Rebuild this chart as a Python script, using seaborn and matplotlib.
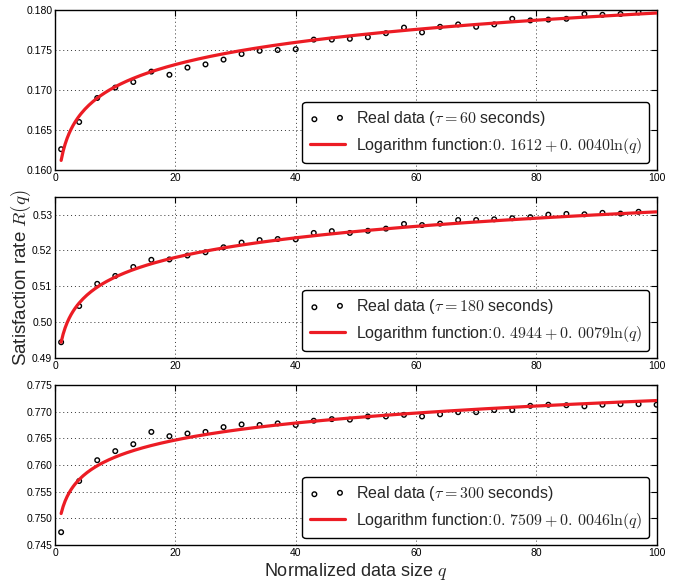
import numpy as np
import pandas as pd
import matplotlib
matplotlib.use("Agg")
import matplotlib.pyplot as plt
import seaborn as sns

# Normalized data size q (sampled every 3)
q_top = [1, 4, 7, 10, 13, 16, 19, 22, 25, 28, 31, 34, 37, 40, 43, 46, 49,
         52, 55, 58, 61, 64, 67, 70, 73, 76, 79, 82, 85, 88, 91, 94, 97]
q_bottom = q_top + [100]

# Real data, tau = 60 / 180 / 300 seconds
r_60 = [0.1626, 0.1660, 0.1690, 0.1703, 0.1710, 0.1723, 0.1719, 0.1728,
        0.1732, 0.1738, 0.1745, 0.1749, 0.1750, 0.1751, 0.1763, 0.1763,
        0.1764, 0.1766, 0.1771, 0.1778, 0.1772, 0.1779, 0.1782, 0.1779,
        0.1782, 0.1789, 0.1787, 0.1788, 0.1789, 0.1795, 0.1794, 0.1795,
        0.1797]
r_180 = [0.4944, 0.5045, 0.5107, 0.5129, 0.5154, 0.5174, 0.5175, 0.5186,
         0.5195, 0.5209, 0.5222, 0.5229, 0.5232, 0.5231, 0.5249, 0.5254,
         0.5249, 0.5255, 0.5261, 0.5274, 0.5271, 0.5275, 0.5285, 0.5285,
         0.5287, 0.5290, 0.5293, 0.5300, 0.5302, 0.5301, 0.5305, 0.5303,
         0.5308]
r_300 = [0.7474, 0.7570, 0.7609, 0.7626, 0.7639, 0.7662, 0.7654, 0.7659,
         0.7662, 0.7671, 0.7676, 0.7675, 0.7678, 0.7675, 0.7683, 0.7686,
         0.7685, 0.7691, 0.7691, 0.7694, 0.7691, 0.7695, 0.7699, 0.7699,
         0.7703, 0.7703, 0.7711, 0.7713, 0.7712, 0.7710, 0.7713, 0.7714,
         0.7714, 0.7713]

# Fitted logarithm functions a + b ln(q)
taus = [60, 180, 300]
fit_a = [0.1612, 0.4944, 0.7509]
fit_b = [0.0040, 0.0079, 0.0046]
fit_a_txt = ["0.\\,1612", "0.\\,4944", "0.\\,7509"]
fit_b_txt = ["0.\\,0040", "0.\\,0079", "0.\\,0046"]

ylims = [(0.160, 0.180), (0.490, 0.535), (0.745, 0.775)]
yticks = [[0.160, 0.165, 0.170, 0.175, 0.180],
          [0.49, 0.50, 0.51, 0.52, 0.53],
          [0.745, 0.750, 0.755, 0.760, 0.765, 0.770, 0.775]]

sns.set_style("white")
plt.rcParams["font.family"] = ["Liberation Sans", "DejaVu Sans"]
plt.rcParams["mathtext.fontset"] = "cm"

fig = plt.figure(figsize=(6.89, 5.85), dpi=100)
boxes = [[0.080, 0.7094, 0.873, 0.2735],
         [0.080, 0.3880, 0.873, 0.2757],
         [0.080, 0.0684, 0.873, 0.2735]]

qs = [q_top, q_top, q_bottom]
rs = [r_60, r_180, r_300]
q_fit = np.linspace(1, 100, 300)

axes = []
for i in range(3):
    ax = fig.add_axes(boxes[i])
    axes.append(ax)
    df = pd.DataFrame({"q": qs[i], "R": rs[i]})
    fit = pd.DataFrame({"q": q_fit, "R": fit_a[i] + fit_b[i] * np.log(q_fit)})

    sns.scatterplot(data=df, x="q", y="R", ax=ax, marker="o", s=11,
                    facecolors="none", edgecolor="black", linewidth=1.0,
                    label=r"Real data ($\tau=%d$ seconds)" % taus[i], zorder=3)
    sns.lineplot(data=fit, x="q", y="R", ax=ax, color="#ec1c24", linewidth=2.3,
                 label=r"Logarithm function:$%s+%s\ln(q)$" % (fit_a_txt[i], fit_b_txt[i]),
                 zorder=4)

    ax.set_xlim(0, 100)
    ax.set_ylim(*ylims[i])
    ax.set_xticks([0, 20, 40, 60, 80, 100])
    ax.set_yticks(yticks[i])
    ax.set_xlabel("")
    ax.set_ylabel("")
    ax.grid(True, color="black", linestyle=(0, (1, 3)), linewidth=0.7, alpha=0.8)
    ax.tick_params(direction="in", top=True, right=True, length=4,
                   labelsize=7.5, colors="black", pad=2)
    for sp in ax.spines.values():
        sp.set_color("black")
        sp.set_linewidth(1.0)

    leg = ax.legend(loc="lower right", scatterpoints=2, fancybox=True,
                    framealpha=1, edgecolor="black", borderaxespad=0.45,
                    handlelength=2.2, labelspacing=0.45, borderpad=0.45,
                    handletextpad=0.7, fontsize=11.5)
    leg.get_frame().set_linewidth(1.0)

axes[1].set_ylabel(r"Satisfaction rate $R(q)$", fontsize=13.5, labelpad=-1)
axes[2].set_xlabel(r"Normalized data size $q$", fontsize=13, labelpad=2)

plt.savefig("out.png", dpi=100)
